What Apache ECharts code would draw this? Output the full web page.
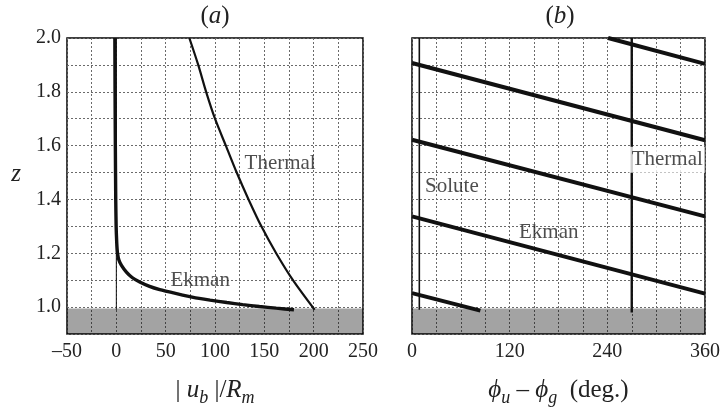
<!DOCTYPE html>
<html><head><meta charset="utf-8">
<script src="https://cdn.jsdelivr.net/npm/echarts@6/dist/echarts.min.js"></script>
<style>html,body{margin:0;padding:0;background:#fff}#c{width:723px;height:412px}</style>
</head><body><div id="c"></div>
<script>
// ---- data ----
// panel (a): |u_b|/R_m versus z
const ekmanMagnitude = [[-1.5,2.0],[-1.3,1.8],[-1.0,1.6],[-0.6,1.4],[-0.2,1.3],[0.4,1.24],[1.2,1.2],[2.6,1.175],[5.2,1.155],[10.2,1.13],[16,1.11],[23.7,1.093],[33,1.078],[44,1.065],[61,1.05],[78,1.036],[95,1.026],[112,1.017],[128,1.009],[145,1.002],[162,0.996],[180,0.99]];
const thermalMagnitude = [[74,2.0],[83,1.9],[91,1.8],[100,1.7],[111,1.6],[122,1.5],[134,1.4],[147,1.3],[162,1.2],[179,1.1],[201,0.99]];
const soluteMagnitude = [[0,0.99],[0,2.0]];
// panel (b): phase phi_u - phi_g (deg.) versus z, Ekman wraps every 360 deg
const ekmanPhaseSeg1 = [[241,2.0],[360,1.904]];
const ekmanPhaseSeg2 = [[0,1.907],[360,1.620]];
const ekmanPhaseSeg3 = [[0,1.622],[360,1.337]];
const ekmanPhaseSeg4 = [[0,1.337],[360,1.050]];
const ekmanPhaseSeg5 = [[0,1.052],[84,0.987]];
const thermalPhase = [[270,0.98],[270,2.0]];
const solutePhase = [[9,0.99],[9,2.0]];
// wall (shaded) band in z
const wallBand = [0.9, 0.995];
// tick labels
const magTickLabels = [-50,0,50,100,150,200,250];
const phaseTickLabels = [0,120,240,360];
const zTickLabels = [1.0,1.2,1.4,1.6,1.8,2.0];
// curve labels [x, z]
const labelsA = [{text:'Thermal', at:[166,1.535]}, {text:'Ekman', at:[85,1.098]}];
const labelsB = [{text:'Solute', at:[49,1.447]}, {text:'Ekman', at:[168,1.277]}];
const thermalLabelB = {text:'Thermal', at:[313,1.548]};

// ---- chart ----
const FONT = 'Liberation Serif';
const FS = 20;
const INK = '#222';
const splitLine = {show:true, lineStyle:{color:'#6a6a6a', width:1, type:[2,2]}};
const inList = (list, v) => list.some(t => Math.abs(t - v) < 1e-6);
const fmtMag = v => inList(magTickLabels, v) ? (v < 0 ? '\u2013' + Math.abs(v) : String(v)) : '';
const fmtPhase = v => inList(phaseTickLabels, v) ? String(v) : '';
const fmtZ = v => inList(zTickLabels, v) ? v.toFixed(1) : '';

const gridBox = {show:true, borderColor:'#000', borderWidth:1.5, backgroundColor:'#fff'};
const NF = 25;
const rich = {
  n:{fontFamily:FONT, fontSize:NF, fontWeight:'normal', color:INK, lineHeight:26, verticalAlign:'top'},
  i:{fontFamily:FONT, fontSize:NF, fontWeight:'normal', fontStyle:'italic', color:INK, lineHeight:26, verticalAlign:'top'},
  s:{fontFamily:FONT, fontSize:18, fontWeight:'normal', fontStyle:'italic', color:INK, lineHeight:18, padding:[11,0,0,0], verticalAlign:'top'}
};
const richT = {
  n:{fontFamily:FONT, fontSize:25, fontWeight:'normal', color:INK, lineHeight:26},
  i:{fontFamily:FONT, fontSize:25, fontWeight:'normal', fontStyle:'italic', color:INK, lineHeight:26}
};

function lineSeries(data, xi, width, name){
  return {type:'line', name, xAxisIndex:xi, yAxisIndex:xi, data, showSymbol:false, symbol:'none',
    lineStyle:{color:'#111', width}, silent:true, z:3};
}
function labelSeries(items, xi, extra){
  return {type:'scatter', xAxisIndex:xi, yAxisIndex:xi, symbolSize:0, itemStyle:{color:'rgba(0,0,0,0)'}, silent:true, z:5,
    data: items.map(l => ({value:l.at, label:Object.assign({show:true, formatter:l.text, position:'inside',
      align:'center', verticalAlign:'middle', fontFamily:FONT, fontSize:21, color:INK}, extra||{})}))};
}

const chart = echarts.init(document.getElementById('c'), null, {renderer:'canvas'});
chart.setOption({
  animation:false,
  backgroundColor:'#fff',
  title:[
    {text:'{n|(}{i|a}{n|)}', left:215, top:3, padding:0, textAlign:'center', textStyle:{rich:richT}},
    {text:'{n|(}{i|b}{n|)}', left:560, top:3, padding:0, textAlign:'center', textStyle:{rich:richT}}
  ],
  grid:[
    Object.assign({left:67, top:38, width:296, height:296}, gridBox),
    Object.assign({left:412, top:38, width:296, height:296}, gridBox)
  ],
  xAxis:[
    {type:'value', gridIndex:0, min:-50, max:250, interval:25,
     axisLine:{show:false}, axisTick:{show:false}, splitLine,
     axisLabel:{formatter:fmtMag, fontFamily:FONT, fontSize:FS, color:INK, margin:8, showMinLabel:true, showMaxLabel:true},
     name:'{n|| }{i|u}{s|b}{n| |/}{i|R}{s|m}', nameLocation:'middle', nameGap:44, nameTextStyle:{rich}},
    {type:'value', gridIndex:1, min:0, max:360, interval:30,
     axisLine:{show:false}, axisTick:{show:false}, splitLine,
     axisLabel:{formatter:fmtPhase, fontFamily:FONT, fontSize:FS, color:INK, margin:8, showMinLabel:true, showMaxLabel:true},
     name:'{i|\u03D5}{s|u}{n| \u2013 }{i|\u03D5}{s|g}{n|  (deg.)}', nameLocation:'middle', nameGap:44, nameTextStyle:{rich}}
  ],
  yAxis:[
    {type:'value', gridIndex:0, min:0.9, max:2.0, interval:0.1,
     axisLine:{show:false}, axisTick:{show:false}, splitLine,
     axisLabel:{formatter:fmtZ, fontFamily:FONT, fontSize:FS, color:INK, margin:6, showMinLabel:true, showMaxLabel:true},
     name:'{i|z}', nameLocation:'middle', nameGap:46, nameRotate:0, nameTextStyle:{rich, padding:[0,0,22,0]}},
    {type:'value', gridIndex:1, min:0.9, max:2.0, interval:0.1,
     axisLine:{show:false}, axisTick:{show:false}, splitLine,
     axisLabel:{show:false}}
  ],
  series:[
    Object.assign(lineSeries(soluteMagnitude, 0, 1, 'Solute'), {
      markArea:{silent:true, itemStyle:{color:'rgba(0,0,0,0.36)'}, data:[[{yAxis:wallBand[0]},{yAxis:wallBand[1]}]]}}),
    Object.assign(lineSeries(thermalMagnitude, 0, 2.2, 'Thermal'), {smooth:0.3}),
    Object.assign(lineSeries(ekmanMagnitude, 0, 3.4, 'Ekman'), {smooth:0.2}),
    Object.assign(lineSeries(solutePhase, 1, 1.6, 'Solute'), {
      markArea:{silent:true, itemStyle:{color:'rgba(0,0,0,0.36)'}, data:[[{yAxis:wallBand[0]},{yAxis:wallBand[1]}]]}}),
    lineSeries(thermalPhase, 1, 2.4, 'Thermal'),
    lineSeries(ekmanPhaseSeg1, 1, 4, 'Ekman'),
    lineSeries(ekmanPhaseSeg2, 1, 4, 'Ekman'),
    lineSeries(ekmanPhaseSeg3, 1, 4, 'Ekman'),
    lineSeries(ekmanPhaseSeg4, 1, 4, 'Ekman'),
    lineSeries(ekmanPhaseSeg5, 1, 4, 'Ekman'),
    labelSeries(labelsA, 0),
    labelSeries(labelsB, 1),
    labelSeries([thermalLabelB], 1, {backgroundColor:'#fff', padding:[3,2,3,3], lineHeight:20})
  ]
});
</script></body></html>
